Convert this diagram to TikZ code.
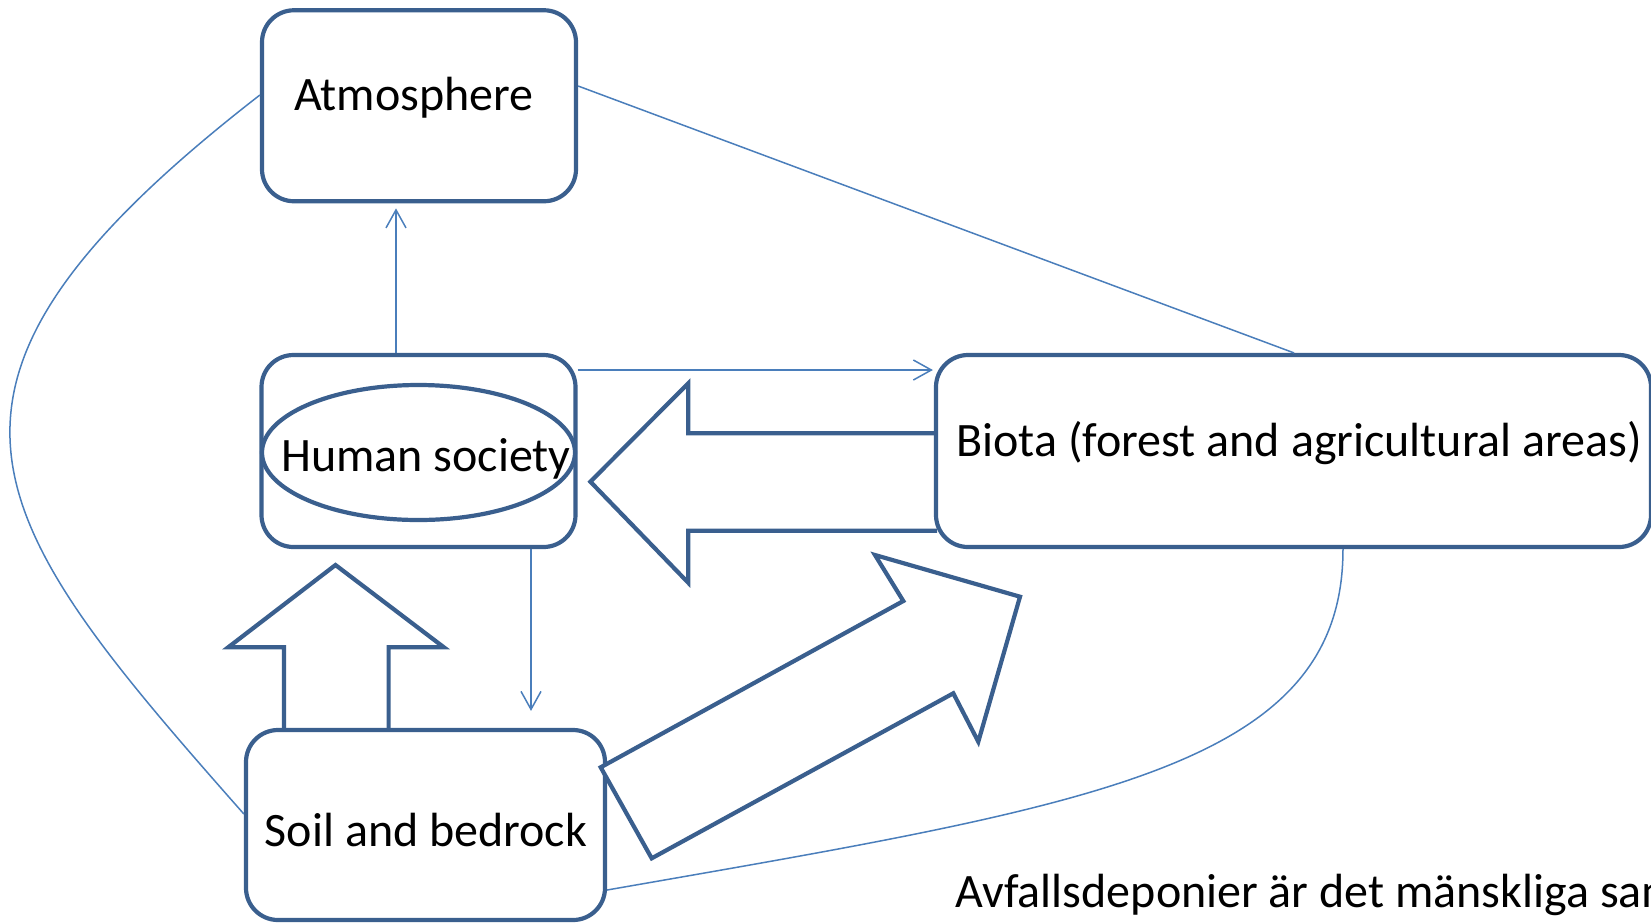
\documentclass[tikz,border=0pt]{standalone}
\usepackage{fontspec}
\setmainfont{Carlito}
\usetikzlibrary{arrows.meta,calc,shapes.geometric}
\definecolor{boxblue}{HTML}{3A5F8E}
\definecolor{lineblue}{HTML}{4A7EBB}
\tikzset{
  box/.style={draw=boxblue, line width=2.1pt, rounded corners=16pt, rectangle, inner sep=0pt, fill=white},
  lbl/.style={font=\fontsize{24}{29}\selectfont, inner sep=0pt, text=black},
  conn/.style={draw=lineblue, line width=0.75pt},
  arr/.style={conn, -{Straight Barb[length=9pt,width=10pt]}},
  block/.style={draw=boxblue, line width=2.1pt, fill=white, line join=miter},
}
\begin{document}
\begin{tikzpicture}[x=0.5pt,y=-0.5pt]
\useasboundingbox (0,0) rectangle (1651,923);
\clip (0,0) rectangle (1651,923);

% block arrows behind boxes
\draw[block] (937,433.3) -- (688.2,433.3) -- (688.2,383.3) -- (590.4,481.7) -- (688.2,582.7) -- (688.2,530.7) -- (937,530.7);
\draw[block] (284,731) -- (284,647.3) -- (228.2,647.3) -- (335.5,565) -- (443.9,647.3) -- (388.6,647.3) -- (388.6,731);

% boxes
\node[box, minimum width=157pt, minimum height=95.5pt] (atm) at (419,105.75) {};
\node[box, minimum width=157pt, minimum height=96pt] (hum) at (418.5,451) {};
\node[ellipse, draw=boxblue, line width=2.1pt, minimum width=156.5pt, minimum height=67.5pt, inner sep=0pt] (ell) at (418.5,452.5) {};
\node[box, minimum width=357.5pt, minimum height=96pt] (bio) at (1293.5,451) {};
\node[box, minimum width=179.5pt, minimum height=95pt] (soil) at (425.5,825) {};

% diagonal block arrow
\draw[block] (600.7,767.3) -- (903.3,601) -- (875,555) -- (1020,596.7) -- (978.3,741.7) -- (953.3,693.3) -- (651.7,858.3) -- cycle;

% labels
\node[lbl, anchor=base] (tatm) at (414,110) {Atmosphere};
\node[lbl, anchor=base] (thum) at (426,471) {Human society};
\node[lbl, anchor=base west] (tbio) at (956,456) {Biota (forest and agricultural areas)};
\node[lbl, anchor=base] (tsoil) at (426,846) {Soil and bedrock};
\node[lbl, anchor=base west] (tnote) at (955,907) {Avfallsdeponier är det mänskliga samhällets};

% connectors
\draw[conn] (atm.east |- 0,86) -- (bio.north -| 1294,0);
\draw[conn] (atm.west |- 0,95) .. controls (-118,388) and (-21,514) .. (soil.west |- 0,814);
\draw[conn] (bio.south -| 1343,0) .. controls (1343,767) and (1097,804.5) .. (soil.east |- 0,890);
\draw[arr, shorten >=2.5pt] (hum.north -| 396,0) -- (atm.south -| 396,0);
\draw[arr, shorten >=0.5pt] (hum.east |- 0,370) -- (bio.west |- 0,370);
\draw[arr, shorten >=8.5pt] (hum.south -| 531,0) -- (soil.north -| 531,0);
\end{tikzpicture}
\end{document}
